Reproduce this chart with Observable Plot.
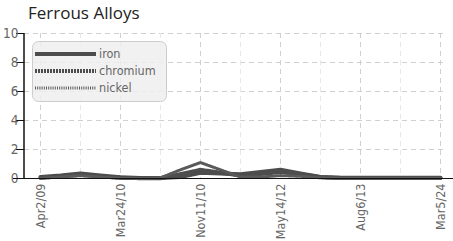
<!DOCTYPE html>
<html><head><meta charset="utf-8">
<script src="https://cdn.jsdelivr.net/npm/d3@7"></script>
<script src="https://cdn.jsdelivr.net/npm/@observablehq/plot@0.6"></script>
<style>
body{margin:0;background:#fff;}
#wrap{position:relative;width:453px;height:241px;overflow:hidden;}
#title{position:absolute;left:28px;top:1px;font:17px "Open Sans",sans-serif;color:#222;white-space:nowrap;}
#chart{position:absolute;left:0;top:25px;}
#legend{position:absolute;left:32px;top:41px;}
</style></head>
<body>
<div id="wrap"><div id="title">Ferrous Alloys</div><div id="chart"></div><div id="legend"></div></div>
<script>
const dates = ["Apr2/09","Jul14/09","Oct8/09","Dec30/09","Mar24/10","Jun6/10","Aug20/10","Oct1/10","Nov11/10","Apr3/11","Sep20/11","Jan9/12","May14/12","Aug2/12","Nov15/12","Apr10/13","Aug6/13","Mar2/16","Jul7/18","Nov19/21","Mar5/24"];
const labeled = ["Apr2/09","Mar24/10","Nov11/10","May14/12","Aug6/13","Mar5/24"];
const series = ["iron","chromium","nickel"];
const iron =     [0.10,0.20,0.35,0.20,0.08,0.04,0.04,0.10,0.40,0.35,0.30,0.45,0.60,0.35,0.10,0.05,0.05,0.05,0.05,0.05,0.05];
const chromium = [0.05,0.15,0.25,0.15,0.05,0.02,0.02,0.30,0.60,0.40,0.20,0.30,0.45,0.30,0.10,0.04,0.03,0.03,0.03,0.03,0.03];
const nickel =   [0.02,0.10,0.20,0.10,0.02,0.00,0.05,0.60,1.10,0.60,0.10,0.10,0.20,0.15,0.05,0.02,0.02,0.02,0.02,0.02,0.02];
const yTicks = [0,2,4,6,8,10];
const bands = [[2,4],[6,8]];

const FONT = '"DejaVu Sans Condensed","Liberation Sans Narrow","Roboto",sans-serif';
const styles = {
  iron: {stroke:"#4d4d4d", strokeWidth:4, dash:null},
  chromium: {stroke:"#4d4d4d", strokeWidth:4, dash:"2,1"},
  nickel: {stroke:"#5a5a5a", strokeWidth:3, dash:"1,1.2"}
};
const valuesBy = {iron, chromium, nickel};
const rows = series.flatMap(s => dates.map((d,i) => ({series:s, date:d, value:valuesBy[s][i]})));
const gridDates = dates.filter((d,i) => i % 2 === 0);
const minorGrid = gridDates.filter(d => !labeled.includes(d));

const marks = [
  Plot.rectY(bands, {y1: d => d[0], y2: d => d[1], x1: dates[0], x2: dates[dates.length-1], fill:"#f6f6f6", insetLeft:-11, insetRight:-8}),
  Plot.gridY(yTicks.filter(v => v > 0), {stroke:"#d0d0d0", strokeOpacity:1, strokeDasharray:"5,4"}),
  Plot.gridX(labeled, {stroke:"#d0d0d0", strokeOpacity:1, strokeDasharray:"5,4"}),
  Plot.gridX(minorGrid, {stroke:"#e8e8e8", strokeOpacity:1, strokeDasharray:"5,4"}),
  ...series.map(s => Plot.line(rows.filter(r => r.series === s), {
    x:"date", y:"value", stroke: styles[s].stroke, strokeWidth: styles[s].strokeWidth,
    strokeDasharray: styles[s].dash || undefined
  })),
  Plot.axisY(yTicks, {label:null, tickSize:8, tickPadding:-2, stroke:"#111", fill:"#666", fontSize:13.5}),
  Plot.axisX(labeled, {label:null, tickSize:0, tickRotate:-90, tickPadding:5, fill:"#666", fontSize:12.5}),
  Plot.ruleY([0], {stroke:"#111", insetLeft:-11, insetRight:-8})
];

const chart = Plot.plot({
  width:453, height:216,
  marginTop:8, marginBottom:63, marginLeft:24, marginRight:8,
  style:{fontFamily:FONT, background:"transparent"},
  x:{type:"point", domain:dates, padding:0, insetLeft:11},
  y:{domain:[0,10]},
  marks
});
const svg = d3.select(chart);
svg.append("line").attr("x1",24).attr("x2",24).attr("y1",8).attr("y2",153).attr("stroke","#111").attr("stroke-width",1.5);
document.getElementById("chart").appendChild(chart);

// legend
const lg = d3.select("#legend").append("svg").attr("width",136).attr("height",62);
lg.append("rect").attr("x",0.5).attr("y",0.5).attr("width",134).attr("height",60).attr("rx",6)
  .attr("fill","#eeeeee").attr("fill-opacity",0.85).attr("stroke","#ccc");
series.forEach((s,i) => {
  const y = 13 + i*17;
  const st = styles[s];
  const l = lg.append("line").attr("x1",3).attr("x2",64).attr("y1",y).attr("y2",y)
    .attr("stroke",st.stroke).attr("stroke-width",st.strokeWidth);
  if (st.dash) l.attr("stroke-dasharray",st.dash);
  lg.append("text").attr("x",67).attr("y",y+4).text(s)
    .attr("font-family",FONT).attr("font-size",12.5).attr("fill","#666");
});
</script>
</body></html>
